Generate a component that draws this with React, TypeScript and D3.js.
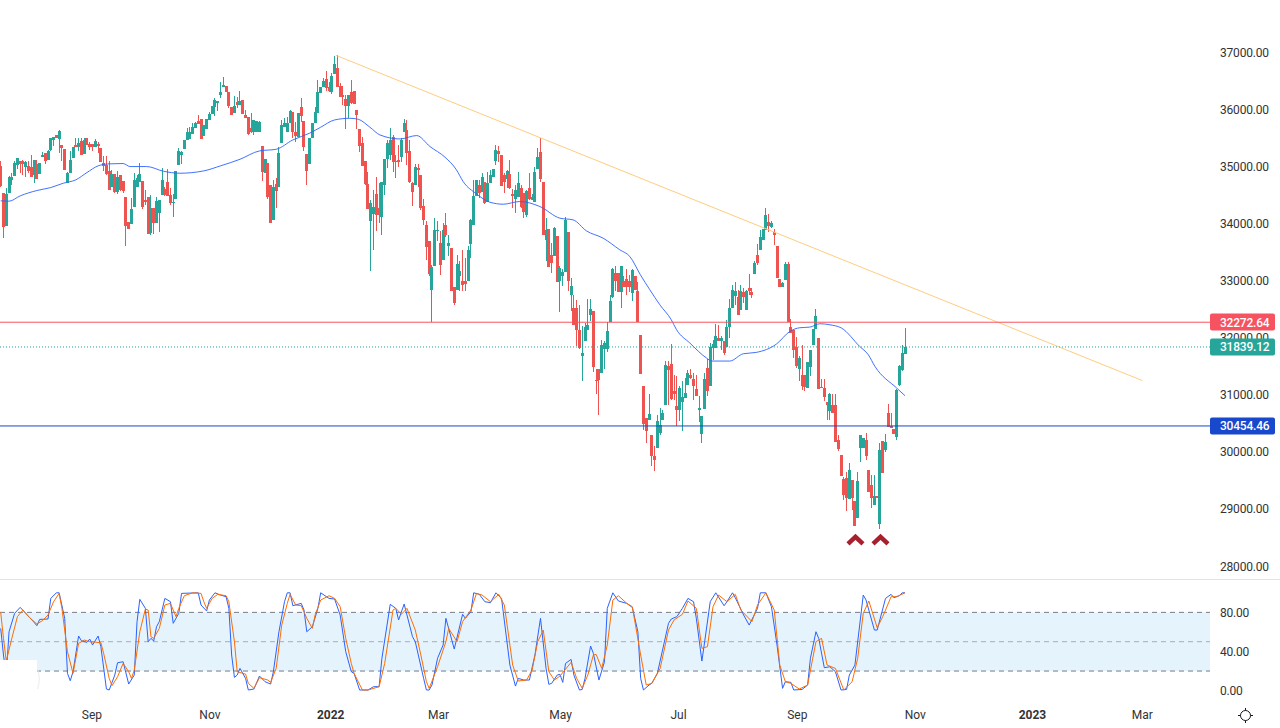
import React from 'react';
import * as d3 from 'd3';

type Row = [number, number, number, number]; // open, high, low, close

const WIDTH = 1280;
const HEIGHT = 728;
const PLOT_RIGHT = 1210;

// daily candles
const candlesAug21: Row[] = [
  [35010, 35100, 34650, 34660], [34530, 34530, 33755, 33950], [33960, 34620, 33960, 34520], [34545, 34830, 34545, 34815],
  [34770, 34885, 34680, 34825], [34840, 35105, 34840, 35060], [35030, 35150, 34960, 35145], [35090, 35090, 34885, 35050],
  [35090, 35120, 34855, 35050], [34985, 35090, 34815, 35075], [35010, 35105, 34885, 34930], [34990, 35200, 34825, 34825],
  [34855, 35120, 34720, 35115], [35050, 35120, 34790, 34790], [34870, 35060, 34870, 35060], [35160, 35260, 35160, 35205],
  [35235, 35235, 35050, 35090], [35120, 35295, 35120, 35280], [35295, 35500, 35280, 35500], [35470, 35515, 35365, 35515],
  [35560, 35560, 35500, 35500], [35490, 35645, 35245, 35630], [35375, 35375, 35090, 35330], [35315, 35315, 34945, 34945],
  [34710, 34900, 34710, 34895], [34895, 35280, 34895, 35120], [35150, 35350, 35150, 35345], [35375, 35500, 35345, 35345],
  [35350, 35500, 35265, 35410], [35450, 35500, 35205, 35205], [35225, 35500, 35225, 35470], [35500, 35510, 35380, 35380],
  [35400, 35440, 35295, 35350],
];
const candlesSepOct21: Row[] = [
  [35390, 35390, 35280, 35350], [35350, 35485, 35350, 35445], [35400, 35440, 35245, 35365], [35330, 35330, 35085, 35085],
  [35060, 35190, 34915, 35015], [35025, 35190, 34855, 34870], [34930, 35090, 34590, 34590], [34650, 34945, 34650, 34870],
  [34870, 34870, 34535, 34550], [34560, 34915, 34520, 34825], [34855, 34855, 34565, 34590], [34750, 34750, 34535, 34565],
  [34465, 34465, 33610, 33960], [34025, 34025, 33910, 33910], [33995, 34445, 33995, 34255], [34285, 34885, 34285, 34770],
  [34640, 34855, 34640, 34795], [34735, 35060, 34735, 34870], [34750, 34750, 34265, 34300], [34420, 34595, 34330, 34385],
  [34465, 34465, 33820, 33820], [33835, 34505, 33795, 34270], [34270, 34270, 33820, 34010], [34020, 34475, 34020, 34405],
  [34195, 34420, 33860, 34420], [34505, 34970, 34505, 34770], [34600, 34640, 34480, 34510], [34730, 34955, 34485, 34485],
  [34505, 34620, 34320, 34360], [34360, 34520, 34125, 34375], [34435, 34925, 34435, 34925], [35020, 35320, 35020, 35265],
  [35205, 35280, 35050, 35250], [35305, 35470, 35305, 35470], [35470, 35670, 35470, 35610], [35480, 35690, 35480, 35600],
  [35570, 35760, 35570, 35690], [35670, 35790, 35670, 35760], [35800, 35905, 35750, 35750], [35835, 35835, 35485, 35485],
  [35535, 35730, 35535, 35730], [35655, 35830, 35655, 35830], [35820, 35965, 35820, 35925], [35925, 36065, 35925, 36065],
];
const candlesNovDec21: Row[] = [
  [36050, 36200, 35890, 36170], [36110, 36150, 35980, 36150], [36255, 36480, 36200, 36310], [36390, 36565, 36390, 36430],
  [36410, 36410, 36315, 36315], [36315, 36315, 36020, 36060], [36045, 36045, 35910, 35910], [35945, 36240, 35945, 36060],
  [36135, 36225, 36035, 36085], [36075, 36325, 36075, 36150], [36170, 36170, 35925, 35925], [35905, 35995, 35860, 35860],
  [35865, 35865, 35555, 35575], [35670, 35945, 35585, 35600], [35615, 35820, 35555, 35820], [35610, 35805, 35610, 35805],
  [35610, 35800, 35610, 35790], [35365, 35365, 34750, 34900], [34885, 35130, 34885, 35130], [35060, 35060, 34435, 34475],
  [34680, 34680, 34020, 34020], [34070, 34770, 34070, 34650], [34690, 34795, 34270, 34580], [34635, 35350, 34635, 35235],
  [35420, 35820, 35420, 35730], [35690, 35850, 35690, 35760], [35615, 35865, 35615, 35760], [35760, 35993, 35760, 35975],
  [35960, 35960, 35497, 35614], [35610, 35790, 35440, 35540], [35526, 35935, 35526, 35935], [36050, 36210, 35790, 35890],
  [35800, 35800, 35280, 35350], [35225, 35225, 34670, 34930], [35050, 35510, 35050, 35510], [35495, 35760, 35495, 35760],
  [35760, 36050, 35760, 35965], [35945, 36520, 35945, 36315], [36297, 36402, 36297, 36402], [36402, 36548, 36402, 36501],
  [36536, 36676, 36332, 36384], [36402, 36478, 36314, 36332], [36314, 36635, 36268, 36594],
];
const candlesJanFeb22: Row[] = [
  [36624, 36945, 36624, 36799], [36723, 36956, 36402, 36402], [36413, 36472, 36227, 36227], [36256, 36413, 36081, 36227],
  [36186, 36256, 35655, 36063], [36063, 36256, 35847, 36256], [36314, 36519, 36098, 36110], [36332, 36332, 36098, 36098],
  [35993, 35993, 35655, 35906], [35660, 35660, 35264, 35363], [35410, 35526, 35013, 35013], [35100, 35100, 34680, 34690],
  [34697, 34902, 34254, 34254], [34055, 34417, 33163, 34359], [34172, 34592, 33542, 34289], [34522, 34814, 33880, 34155],
  [34271, 34709, 34009, 34155], [34125, 34738, 33805, 34727], [34680, 35135, 34505, 35135], [35135, 35468, 34972, 35421],
  [35205, 35672, 35118, 35468], [35526, 35555, 34913, 35088], [35106, 35205, 34808, 35083], [35118, 35380, 35000, 35088],
  [35164, 35497, 35088, 35468], [35608, 35830, 35608, 35760], [35643, 35818, 35030, 35234], [35275, 35468, 34720, 34738],
  [34709, 34738, 34318, 34557], [34680, 35042, 34680, 34989], [34972, 35042, 34651, 34943], [34855, 34855, 34242, 34271],
  [34312, 34429, 33980, 34067], [33980, 34038, 33367, 33583], [33688, 33688, 33087, 33121], [32830, 33279, 32275, 33232],
  [33262, 34096, 33262, 33892], [33863, 34038, 33700, 33892], [33658, 33863, 33104, 33279],
];
const candlesMarApr22: Row[] = [
  [33367, 34020, 33367, 33892], [33980, 34184, 33763, 33793], [33600, 33805, 33425, 33658], [33571, 33571, 32812, 32812],
  [32888, 32888, 32579, 32608], [32841, 33454, 32841, 33297], [33087, 33337, 32812, 33174], [33000, 33530, 32812, 32930],
  [32987, 33396, 32812, 32946], [32987, 33612, 32987, 33542], [33647, 34079, 33396, 34067], [33980, 34768, 33980, 34487],
  [34487, 34768, 34487, 34768], [34680, 34768, 34446, 34546], [34563, 34884, 34563, 34814], [34738, 34738, 34347, 34359],
  [34376, 34913, 34376, 34709], [34709, 34943, 34709, 34855], [34814, 34954, 34814, 34954], [35106, 35380, 35030, 35293],
  [35275, 35363, 35088, 35223], [35205, 35205, 34668, 34668], [34855, 34884, 34546, 34738], [34785, 34943, 34622, 34925],
  [34873, 35118, 34604, 34622], [34522, 34604, 34271, 34493], [34429, 34680, 34195, 34592], [34476, 34913, 34476, 34709],
  [34622, 34680, 34271, 34300], [34546, 34546, 34108, 34207], [34155, 34592, 34125, 34575], [34622, 34884, 34417, 34429],
  [34417, 34520, 34417, 34476], [34388, 35001, 34388, 34913], [34954, 35322, 34954, 35176], [35264, 35497, 34738, 34779],
  [34726, 34726, 33805, 33805], [33717, 34096, 33337, 33892], [33904, 33904, 33238, 33238], [33454, 33658, 33133, 33308],
  [33425, 33950, 33425, 33921], [33787, 33787, 32970, 32970], [33000, 33250, 32460, 33220], [33075, 33200, 32900, 33150],
];
const candlesMayJun22: Row[] = [
  [33160, 34110, 33160, 34067], [33851, 33851, 32812, 32987], [32753, 33045, 32462, 32911], [32520, 32753, 32228, 32228],
  [32520, 32666, 31849, 32141], [32129, 32578, 31802, 31820], [31685, 32199, 31236, 31732], [31936, 32257, 31936, 32187],
  [32141, 32683, 32141, 32228], [32403, 32683, 32286, 32502], [32473, 32473, 31393, 31481], [31265, 31452, 31020, 31236],
  [31458, 31458, 30640, 31253], [31382, 31966, 31382, 31878], [31808, 31936, 31460, 31900], [31808, 32269, 31750, 32123],
  [32275, 32753, 32275, 32648], [32713, 33220, 32689, 33203], [33144, 33250, 32812, 32987], [33144, 33144, 32794, 32794],
  [32794, 33261, 32520, 33250], [32987, 33075, 32888, 32888], [33028, 33203, 32753, 32888], [33000, 33100, 32800, 32890],
  [32783, 33209, 32637, 33191], [33086, 33086, 32841, 32841], [32823, 32970, 32275, 32275], [32053, 32053, 31370, 31370],
  [31148, 31148, 30378, 30495], [30594, 30594, 30156, 30360], [30565, 31020, 30565, 30670], [30302, 30302, 29747, 29923],
  [29923, 30097, 29660, 29864], [30068, 30652, 30068, 30535], [30331, 30769, 30302, 30465], [30553, 30728, 30553, 30681],
  [30827, 31598, 30827, 31516], [31510, 31586, 30827, 31428], [31545, 31890, 30915, 30932], [31072, 31353, 30915, 31020],
];
const candlesJulAug22: Row[] = [
  [30798, 31323, 30448, 30740], [30728, 31148, 30535, 31113], [30874, 31236, 30360, 30962], [30944, 31294, 30944, 31032],
  [31177, 31440, 31177, 31382], [31353, 31450, 31280, 31294], [31282, 31382, 30915, 31160], [31102, 31353, 30973, 30973],
  [30728, 30973, 30518, 30769], [30308, 30635, 30156, 30635], [30757, 31382, 30757, 31282], [31469, 31633, 30973, 31061],
  [31148, 31907, 31148, 31837], [31820, 31966, 31615, 31884], [31820, 32246, 31820, 32035], [31995, 32228, 31936, 31936],
  [31936, 32035, 31790, 31995], [31948, 31948, 31703, 31732], [31837, 32316, 31837, 32187], [32187, 32678, 31995, 32520],
  [32520, 32928, 32520, 32829], [32724, 32970, 32578, 32812], [32707, 32841, 32392, 32392], [32491, 32928, 32491, 32812],
  [32794, 32870, 32608, 32713], [32491, 32840, 32491, 32812], [32870, 33121, 32753, 32823], [32794, 32870, 32695, 32753],
  [33121, 33353, 33121, 33308], [33454, 33641, 33267, 33308], [33541, 33892, 33541, 33775], [33705, 33909, 33705, 33909],
  [33892, 34271, 33892, 34154], [34026, 34172, 33862, 33962], [33950, 34045, 33930, 34008], [33862, 33903, 33629, 33804],
  [33600, 33600, 33045, 33045], [33033, 33033, 32888, 32888], [32888, 32970, 32888, 32958], [33016, 33320, 33016, 33296],
];
const candlesSepOct22: Row[] = [
  [33296, 33320, 32269, 32269], [32187, 32327, 32082, 32082], [32141, 32141, 31645, 31790], [31831, 32012, 31469, 31499],
  [31452, 31674, 31236, 31645], [31353, 31866, 31090, 31148], [31353, 31353, 31061, 31137], [31119, 31574, 31119, 31574],
  [31481, 31790, 31324, 31779], [31866, 32152, 31866, 32152], [32152, 32508, 32152, 32386], [31995, 31995, 31102, 31102],
  [31137, 31283, 31119, 31119], [31119, 31283, 30886, 30962], [30868, 30868, 30553, 30816], [30711, 31032, 30553, 31020],
  [30827, 31014, 30681, 30681], [30821, 31014, 30168, 30168], [30214, 30302, 30010, 30057], [29952, 29952, 29572, 29572],
  [29532, 29555, 29164, 29251], [29543, 29642, 28959, 29200], [29181, 29806, 29181, 29689], [29514, 29514, 28989, 29193],
  [29135, 29135, 28708, 28708], [28843, 29648, 28843, 29496], [30068, 30302, 29818, 30302], [30068, 30240, 30068, 30240],
  [30214, 30331, 29864, 29923], [29689, 29689, 29292, 29292], [29426, 29602, 29018, 29193], [29076, 29602, 29076, 29232],
  [29222, 29222, 29193, 29193], [28743, 30156, 28656, 30039], [30197, 30197, 29631, 29631], [30028, 30320, 29990, 30168],
  [30681, 30845, 30436, 30436], [30448, 30681, 30419, 30419], [30401, 30401, 30320, 30320], [30261, 31102, 30214, 31090],
  [31178, 31530, 31150, 31510], [31440, 31880, 31420, 31732], [31720, 32170, 31720, 31839],
];
const candles: Row[] = [
  ...candlesAug21, ...candlesSepOct21, ...candlesNovDec21, ...candlesJanFeb22, ...candlesMarApr22,
  ...candlesMayJun22, ...candlesJulAug22, ...candlesSepOct22,
];

// moving average, as [bar, value]
const movingAverage: [number, number][] = [
  [0, 34400], [3, 34394], [7, 34487], [13, 34581], [18, 34633], [22.5, 34709], [27, 34768], [31, 34896], [35, 35013],
  [39, 35048], [44, 35054], [46.5, 35001], [52.5, 35001], [58.5, 34919], [64.4, 34884], [73, 34925], [79, 35013],
  [86, 35129], [93, 35275], [99, 35304], [105, 35468], [111, 35585], [115, 35690], [120, 35818], [125.5, 35847],
  [128.5, 35830], [132.7, 35690], [136.3, 35555], [143.5, 35485], [149.5, 35544], [154.3, 35351], [159.7, 35164],
  [163.8, 34943], [166.2, 34738], [171, 34522], [175.8, 34376], [180.6, 34341], [186.6, 34388], [193.8, 34300],
  [201, 34096], [205.7, 34067], [210.5, 33874], [216.5, 33746], [222.5, 33542], [226.1, 33425], [229.9, 33104],
  [233.3, 32841], [236.9, 32578], [241, 32316], [242.9, 32141], [247.7, 31907], [253.7, 31644], [255.5, 31592],
  [262, 31592], [266.9, 31720], [271.6, 31744], [278.8, 31890], [283.6, 32111], [287.2, 32176], [290.8, 32187],
  [294.4, 32246], [298, 32228], [302.2, 32170], [308.7, 31849], [311.8, 31703], [314.2, 31498], [322, 31119], [325, 30985],
];

const stochK: [number, number][] = [
  [0, 63.6], [1, 36.4], [2, 15.9], [3, 60.2], [5, 79], [7, 85.1], [9, 79], [12, 69.8], [13, 66.4], [14, 72.8], [17, 73.2],
  [18, 94.3], [20, 100], [21, 100], [23, 73.9], [24, 17.6], [25, 10.1], [26, 19.3], [28, 55.8], [29, 51], [31, 49.3],
  [32, 52.7], [33, 46.6], [35, 55.8], [36, 44.9], [38, 1.6], [39, 0.6], [41, 15.9], [42, 28.5], [44, 29.5], [46, 6.7],
  [48, 15.9], [49, 70.5], [50, 93.3], [52, 84.1], [53, 50], [54, 53.4], [55, 50.7], [56, 65.3], [57, 70.5], [59, 94.3],
  [61, 90.9], [62, 68.8], [64, 79], [65, 99.4], [71, 100], [72, 87.5], [74, 81.4], [75, 92.6], [77, 100], [79, 97.7],
  [81, 96], [82, 84.1], [83, 36.4], [84, 13.5], [85, 15.9], [86, 22.7], [88, 12.5], [89, 0.6], [91, 1.6], [93, 14.9],
  [95, 9.1], [97, 6.7], [98, 19.3], [100, 60.2], [102, 90.9], [103, 100], [104, 100], [105, 86.8], [108, 89.2], [109, 82.4],
  [110, 60.2], [112, 65.3], [114, 84.1], [115, 100], [118, 94.3], [120, 93.6], [122, 77.3], [124, 39.8], [126, 19.3],
  [127, 17.6], [129, 0.6], [132, 0.6], [134, 4], [136, 4], [137, 33], [140, 88.2], [142, 84.1], [143, 72.2], [145, 88.5],
  [148, 55.1], [149, 50], [152, 12.5], [153, 0.6], [154, 0.6], [155, 5.7], [157, 33], [159, 46.6], [160, 73.9], [163, 42.5],
  [166, 78], [167, 73.9], [169, 80.7], [170, 100], [172, 98.4], [174, 90.9], [176, 89.9], [178, 100], [180, 94.3], [183, 26.1],
  [185, 4.6], [186, 12.5], [188, 10.8], [190, 10.8], [192, 36.4], [194, 73.9], [196, 22.7], [197, 6.4], [198, 7.4], [200, 15.9],
  [201, 16.6], [202, 8.4], [203, 27.8], [205, 31.9], [206, 15.9], [208, 0.6], [209, 1.2], [210, 12.5], [212, 45.6], [213, 38.1],
  [215, 10.8], [217, 29.5], [218, 84.1], [220, 100], [222, 91.6], [225, 89.2], [227, 85.1], [229, 60.2], [230, 12.5], [231, 0.6],
  [233, 5.7], [234, 7.4], [236, 17.6], [240, 68.8], [241, 73.2], [243, 75.6], [245, 84.1], [247, 94.3], [249, 90.9], [250, 73.9],
  [252, 30.2], [253, 50], [255, 90.9], [257, 100], [260, 86.8], [261, 90.9], [263, 100], [264, 95], [267, 77.3], [269, 67],
  [272, 84.1], [273, 100], [275, 100], [277, 85.8], [279, 46.6], [281, 2.3], [282, 9.1], [284, 8.4], [285, 0.6], [288, 1.2],
  [290, 5.7], [291, 33], [293, 60.2], [294, 53.4], [296, 23.4], [298, 24.4], [300, 19.3], [302, 0.6], [304, 1.2], [305, 15.9],
  [307, 26.1], [310, 97.7], [311, 92.6], [314, 61.9], [315, 61.9], [318, 94.3], [320, 98.4], [321, 95], [323, 97.1], [324, 100], [325, 100],
];
const stochD: [number, number][] = [
  [0, 80], [1, 53.4], [2, 30.2], [4, 53.4], [6, 75.6], [8, 82.4], [10, 75.6], [13, 68.1], [15, 71.5], [17, 77.3], [19, 90.9],
  [21, 99.4], [22, 84.1], [24, 39.8], [26, 17.6], [27, 33], [28, 48.3], [30, 51.7], [32, 50], [36, 49], [37, 38.1], [39, 12.5],
  [40, 5], [42, 14.2], [44, 27.8], [46, 19.3], [47, 12.5], [48, 21], [50, 60.2], [52, 83.4], [53, 82.4], [54, 55.1], [55, 53.4],
  [57, 63.6], [59, 87.5], [61, 89.2], [63, 75.6], [64, 84.1], [66, 97], [69, 100], [72, 99.4], [73, 90.9], [74, 84.1], [76, 94.3],
  [78, 98.4], [81, 97], [82, 90.9], [84, 50], [85, 19.3], [88, 16.9], [89, 7.4], [91, 2.3], [93, 13.2], [96, 10.8], [97, 8.4],
  [99, 22.7], [101, 67], [103, 89.2], [104, 98.4], [106, 87.5], [108, 86.8], [110, 73.9], [112, 63.6], [113, 77.3], [115, 92.6],
  [118, 97], [120, 94.3], [122, 85.8], [124, 53.4], [126, 27.8], [127, 17.6], [130, 0.6], [132, 0.6], [136, 4], [138, 27.8],
  [141, 82.4], [142, 84.1], [144, 78], [146, 84.1], [149, 61.9], [151, 36.4], [153, 9.1], [154, 2.3], [157, 24.4], [160, 50],
  [161, 63.6], [164, 50], [166, 70.5], [169, 82.4], [171, 99.4], [173, 97.7], [176, 90.9], [179, 98.4], [181, 87.5], [184, 26.1],
  [186, 9.8], [189, 10.8], [191, 21], [193, 50], [195, 61.9], [197, 19.3], [199, 10.8], [201, 14.9], [205, 28.9], [207, 12.5],
  [209, 2.3], [211, 15.9], [213, 36.4], [214, 37], [216, 22.7], [218, 46.6], [220, 92.6], [222, 97], [225, 89.2], [227, 85.8],
  [230, 36.4], [232, 5.7], [234, 7.4], [237, 22.7], [240, 61.9], [242, 72.2], [245, 78], [247, 91.6], [250, 84.1], [252, 43.2],
  [254, 44.9], [256, 85.8], [258, 97.7], [261, 90.9], [264, 98.4], [266, 82.4], [270, 70.5], [272, 87.5], [275, 100], [278, 82.4],
  [280, 26.1], [282, 9.1], [284, 7.4], [287, 1.6], [290, 5.7], [293, 50], [295, 53.4], [297, 26.1], [300, 22.7], [303, 0.6],
  [306, 9.1], [308, 33], [310, 79], [312, 91.6], [315, 64.3], [317, 75.6], [320, 96], [322, 96], [325, 100],
];

const trendBars = [120.5, 410.3];
const trendValues = [36950, 31250];
const resistance = 32272.64;
const support = 30454.46;
const lastPrice = 31839.12;
const chevronBars = [307.2, 316.2];
const chevronPrice = 28450;

const priceTicks = [37000, 36000, 35000, 34000, 33000, 32000, 31000, 30000, 29000, 28000];
const stochTicks = [80, 40, 0];
const timeTicks: [string, number][] = [
  ['Sep', 32.8], ['Nov', 75.2], ['2022', 118.6], ['Mar', 157.4], ['May', 201.2],
  ['Jul', 243.6], ['Sep', 286.3], ['Nov', 328.7], ['2023', 370.8], ['Mar', 410.3],
];

const UP = '#26a69a';
const DOWN = '#ef5350';
const FONT = 'Roboto, sans-serif';

const x = d3.scaleLinear().domain([0, 325]).range([0.7, 905]);
const y = d3.scaleLinear().domain([28000, 37000]).range([566, 52.5]);
const yStoch = d3.scaleLinear().domain([0, 100]).range([690.6, 592.8]);

const maPath = d3.line<[number, number]>().x((d) => x(d[0])).y((d) => y(d[1])).curve(d3.curveMonotoneX)(movingAverage) ?? '';
const stochLine = d3.line<[number, number]>().x((d) => x(d[0])).y((d) => yStoch(d[1]));

const PriceLabel = ({ value, fill }: { value: number; fill: string }) => (
  <g>
    <rect x={PLOT_RIGHT} y={Math.round(y(value)) - 8.5} width={65} height={17} rx={2} fill={fill} />
    <text x={1220} y={y(value) + 4.5} fontSize={12} fontFamily={FONT} fontWeight={500} letterSpacing={-0.2} fill="#fff">
      {value.toFixed(2)}
    </text>
  </g>
);

export default function App() {
  return (
    <svg width={WIDTH} height={HEIGHT} style={{ position: 'fixed', left: 0, top: 0, background: '#fff' }}>
      {/* candles */}
      <g shapeRendering="crispEdges">
        {candles.map(([open, high, low, close], i) => {
          const left = Math.round(x(i) - 1.5);
          const color = close >= open ? UP : DOWN;
          const top = y(Math.max(open, close));
          const bottom = y(Math.min(open, close));
          return (
            <g key={i} fill={color}>
              <rect x={left + 1} y={y(high)} width={1} height={Math.max(1, y(low) - y(high))} />
              <rect x={left} y={top} width={3} height={Math.max(1, bottom - top)} />
            </g>
          );
        })}
      </g>

      <path d={maPath} fill="none" stroke="#2962ff" strokeWidth={0.9} />
      <line x1={x(trendBars[0])} y1={y(trendValues[0])} x2={x(trendBars[1])} y2={y(trendValues[1])} stroke="#ffcc80" strokeWidth={1} />

      <line x1={0} x2={PLOT_RIGHT} y1={y(lastPrice)} y2={y(lastPrice)} stroke={UP} strokeWidth={1} strokeDasharray="1 2" />
      <line x1={0} x2={PLOT_RIGHT} y1={y(resistance)} y2={y(resistance)} stroke="#f7525f" strokeWidth={1} />
      <line x1={0} x2={PLOT_RIGHT} y1={y(support)} y2={y(support)} stroke="#1848cc" strokeWidth={1} />

      {chevronBars.map((b) => (
        <path
          key={b}
          d={`M${x(b) - 7.5},${y(chevronPrice) + 3.5}L${x(b)},${y(chevronPrice) - 3.5}L${x(b) + 7.5},${y(chevronPrice) + 3.5}`}
          fill="none"
          stroke="#a8202e"
          strokeWidth={4.5}
        />
      ))}

      {/* price axis */}
      {priceTicks.map((t) => (
        <text key={t} x={1220} y={y(t) + 4.5} fontSize={12} fontFamily={FONT} letterSpacing={-0.2} fill="#333">
          {t.toFixed(2)}
        </text>
      ))}
      <PriceLabel value={resistance} fill="#f7525f" />
      <PriceLabel value={lastPrice} fill={UP} />
      <PriceLabel value={support} fill="#1848cc" />

      <line x1={0} x2={WIDTH} y1={579.5} y2={579.5} stroke="#e0e3eb" strokeWidth={1} />

      {/* stochastic pane */}
      <rect x={0} y={yStoch(80)} width={PLOT_RIGHT} height={yStoch(20) - yStoch(80)} fill="#e5f3fd" />
      <line x1={0} x2={PLOT_RIGHT} y1={yStoch(80)} y2={yStoch(80)} stroke="#787b86" strokeDasharray="5 4" />
      <line x1={0} x2={PLOT_RIGHT} y1={yStoch(50)} y2={yStoch(50)} stroke="#a9acb5" strokeDasharray="5 4" />
      <line x1={0} x2={PLOT_RIGHT} y1={yStoch(20)} y2={yStoch(20)} stroke="#787b86" strokeDasharray="5 4" />
      <path d={stochLine(stochK) ?? ''} fill="none" stroke="#2962ff" strokeWidth={1} />
      <path d={stochLine(stochD) ?? ''} fill="none" stroke="#ff6d00" strokeWidth={1} />
      <rect x={0} y={660} width={37} height={30} fill="#fff" />
      <path d="M37.5,669Q41,679 37.5,689" fill="none" stroke="#ececec" />
      {stochTicks.map((t) => (
        <text key={t} x={1220} y={yStoch(t) + 4.5} fontSize={12} fontFamily={FONT} letterSpacing={-0.2} fill="#333">
          {t.toFixed(2)}
        </text>
      ))}

      {/* time axis */}
      {timeTicks.map(([label, bar]) => (
        <text
          key={label + bar}
          x={x(bar)}
          y={719}
          textAnchor="middle"
          fontSize={12}
          fontFamily={FONT}
          fontWeight={/^\d/.test(label) ? 700 : 400}
          fill="#333"
        >
          {label}
        </text>
      ))}

      {/* settings icon */}
      <g fill="none" stroke="#131722" strokeWidth={1}>
        <circle cx={1245.5} cy={715.5} r={5} />
        <path d="M1245.5,708V710.5M1245.5,720.5V723M1238,715.5H1240.5M1250.5,715.5H1253" />
      </g>
    </svg>
  );
}
